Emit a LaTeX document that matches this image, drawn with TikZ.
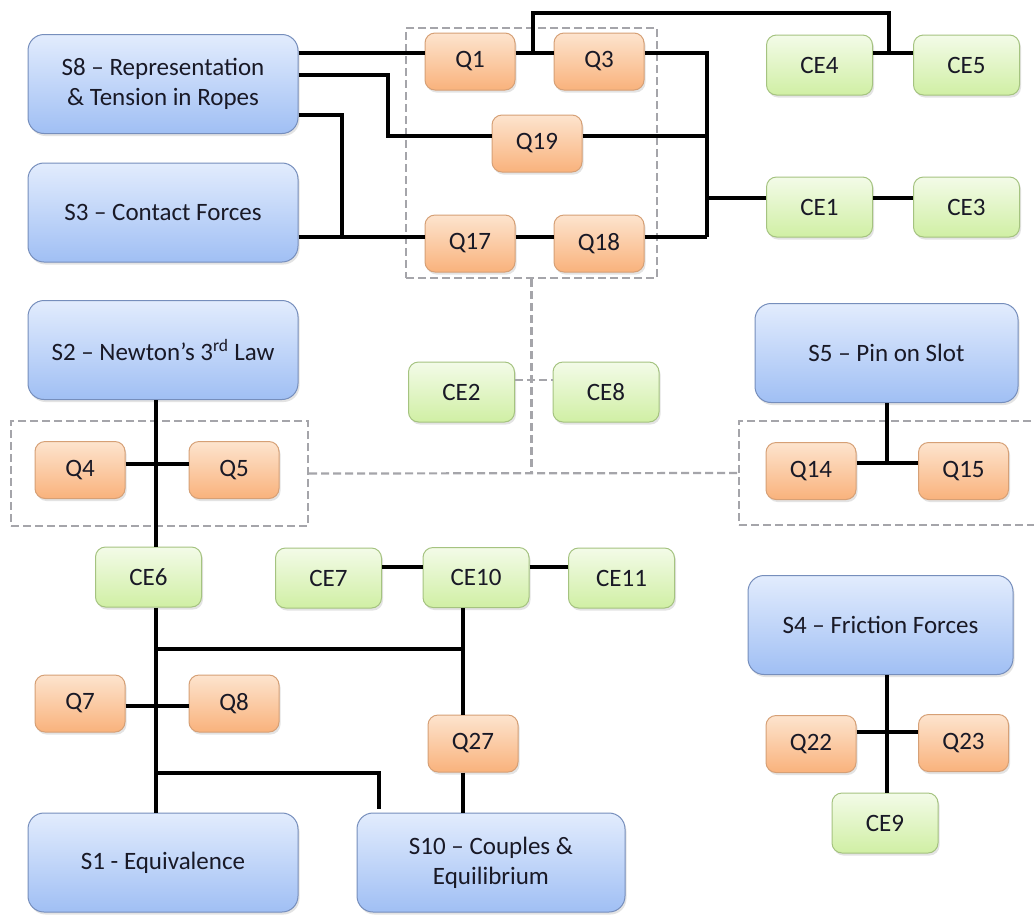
\documentclass[tikz,border=0pt]{standalone}
\usepackage{fontspec}
\setmainfont{Carlito}
\usetikzlibrary{shadows,calc}
\definecolor{sTop}{RGB}{226,236,253}
\definecolor{sBot}{RGB}{160,191,244}
\definecolor{sBrd}{RGB}{118,142,188}
\definecolor{qTop}{RGB}{253,228,206}
\definecolor{qBot}{RGB}{249,178,124}
\definecolor{qBrd}{RGB}{214,160,118}
\definecolor{cTop}{RGB}{243,251,232}
\definecolor{cBot}{RGB}{208,239,164}
\definecolor{cBrd}{RGB}{165,195,128}
\definecolor{txt}{RGB}{25,25,38}
\definecolor{grp}{RGB}{165,165,170}
\begin{document}
\begin{tikzpicture}[x=1pt,y=-1pt,
  base/.style={draw, line width=1pt, font=\fontsize{25}{30}\selectfont, text=txt, align=center, inner sep=0pt,
    drop shadow={opacity=0.22, shadow xshift=1.5pt, shadow yshift=-2.5pt}},
  sbox/.style={base, rounded corners=16pt, draw=sBrd, top color=sTop, bottom color=sBot, minimum width=270pt, minimum height=99pt},
  qbox/.style={base, rounded corners=10pt, draw=qBrd, top color=qTop, bottom color=qBot, minimum width=90pt, minimum height=57pt},
  cbox/.style={base, rounded corners=10pt, draw=cBrd, top color=cTop, bottom color=cBot, minimum width=106pt, minimum height=60pt},
  grpbox/.style={draw=grp, line width=2.2pt, dash pattern=on 8pt off 4pt, inner sep=0pt},
  link/.style={line width=4.5pt, black},
  dlink/.style={draw=grp, line width=2.2pt, dash pattern=on 8pt off 4pt},
]
\useasboundingbox (0,0) rectangle (1034,914);
\clip (0,0) rectangle (1034,914);
\fill[white] (0,0) rectangle (1034,914);

% group boxes
\node[grpbox, minimum width=251pt, minimum height=250pt] (GA) at (531.5,153) {};
\node[grpbox, minimum width=297pt, minimum height=105pt] (GB) at (159.5,473.5) {};
\node[grpbox, minimum width=310pt, minimum height=104pt] (GC) at (894,473) {};

% blue boxes
\node[sbox] (S8) at (163,84) {S8 -- Representation\\ \& Tension in Ropes};
\node[sbox] (S3) at (163,212.5) {S3 -- Contact Forces};
\node[sbox] (S2) at (163,350) {S2 -- Newton’s 3\textsuperscript{rd} Law};
\node[sbox] (S1) at (163,862.5) {S1 - Equivalence};
\node[sbox, minimum width=268pt] (S10) at (491,862.5) {S10 -- Couples \&\\ Equilibrium};
\node[sbox, minimum width=263pt] (S5) at (886.5,353) {S5 -- Pin on Slot};
\node[sbox, minimum width=265pt] (S4) at (880.5,625) {S4 -- Friction Forces};

% orange boxes
\node[qbox] (Q1) at (470,61.5) {Q1};
\node[qbox] (Q3) at (599,61.5) {Q3};
\node[qbox] (Q19) at (537,143.5) {Q19};
\node[qbox] (Q17) at (470,243.5) {Q17};
\node[qbox] (Q18) at (599,243.5) {Q18};
\node[qbox] (Q4) at (80,470) {Q4};
\node[qbox] (Q5) at (234,470) {Q5};
\node[qbox] (Q14) at (811,471) {Q14};
\node[qbox] (Q15) at (963.5,471) {Q15};
\node[qbox] (Q7) at (80,703.5) {Q7};
\node[qbox] (Q8) at (234,703.5) {Q8};
\node[qbox] (Q27) at (473,743.5) {Q27};
\node[qbox] (Q22) at (811,744) {Q22};
\node[qbox] (Q23) at (963.5,743) {Q23};

% green boxes
\node[cbox] (CE4) at (819.5,65) {CE4};
\node[cbox] (CE5) at (966.5,65) {CE5};
\node[cbox] (CE1) at (819.5,207) {CE1};
\node[cbox] (CE3) at (966.5,207) {CE3};
\node[cbox] (CE2) at (461.5,392) {CE2};
\node[cbox] (CE8) at (606,392) {CE8};
\node[cbox] (CE6) at (148.5,577) {CE6};
\node[cbox] (CE7) at (328.5,578) {CE7};
\node[cbox] (CE10) at (476,577.5) {CE10};
\node[cbox] (CE11) at (621.5,578) {CE11};
\node[cbox] (CE9) at (885,823) {CE9};

% helper coordinates
\coordinate (rowA) at (0,53);
\coordinate (topL) at (533,13);
\coordinate (topR) at (889,13);
\coordinate (bus) at (707,198);
\coordinate (c1) at (388,75);
\coordinate (rowB) at (0,136);
\coordinate (c2) at (342,115);
\coordinate (rowC) at (0,237);
\coordinate (colL) at (156,464);
\coordinate (j5) at (887,463);
\coordinate (rowE) at (0,567);
\coordinate (j6) at (156,649);
\coordinate (j7) at (463,649);
\coordinate (rowF) at (156,706);
\coordinate (j8) at (156,773);
\coordinate (j9) at (379,773);
\coordinate (j10) at (887,732);

% dashed connectors
\draw[dlink] (GA.south) -- (GA.south |- GB.east);
\draw[dlink] (GB.east) -- (GC.west);
\draw[dlink] ([yshift=12pt]CE2.east) -- ([yshift=12pt]CE8.west);

% black connectors (top)
\draw[link] (S8.east |- rowA) -- (Q1.west |- rowA);
\draw[link] (Q1.east |- rowA) -- (Q3.west |- rowA);
\draw[link] (topL |- rowA) -- (topL) -- (topR) -- (topR |- rowA);
\draw[link] (CE4.east |- rowA) -- (CE5.west |- rowA);
\draw[link] (Q3.east |- rowA) -- (bus |- rowA) -- (bus |- rowC);
\draw[link] (S8.east |- c1) -- (c1) -- (c1 |- rowB) -- (Q19.west |- rowB);
\draw[link] (Q19.east |- rowB) -- (bus |- rowB);
\draw[link] (S8.east |- c2) -- (c2) -- (c2 |- rowC);
\draw[link] (S3.east |- rowC) -- (Q17.west |- rowC);
\draw[link] (Q17.east |- rowC) -- (Q18.west |- rowC);
\draw[link] (Q18.east |- rowC) -- (bus |- rowC);
\draw[link] (bus) -- (CE1.west |- bus);
\draw[link] (CE1.east |- bus) -- (CE3.west |- bus);

% middle
\draw[link] (S2.south -| colL) -- (CE6.north -| colL);
\draw[link] (Q4.east |- colL) -- (Q5.west |- colL);
\draw[link] (S5.south -| j5) -- (j5);
\draw[link] (Q14.east |- j5) -- (Q15.west |- j5);
\draw[link] (CE7.east |- rowE) -- (CE10.west |- rowE);
\draw[link] (CE10.east |- rowE) -- (CE11.west |- rowE);

% bottom
\draw[link] (CE6.south -| colL) -- (S1.north -| colL);
\draw[link] (j6) -- (j7);
\draw[link] (CE10.south -| j7) -- (Q27.north -| j7);
\draw[link] (Q7.east |- rowF) -- (Q8.west |- rowF);
\draw[link] (j8) -- (j9) -- ([yshift=4pt]S10.north -| j9);
\draw[link] (Q27.south -| j7) -- (S10.north -| j7);
\draw[link] (S4.south -| j10) -- (CE9.north -| j10);
\draw[link] (Q22.east |- j10) -- (Q23.west |- j10);
\end{tikzpicture}
\end{document}
